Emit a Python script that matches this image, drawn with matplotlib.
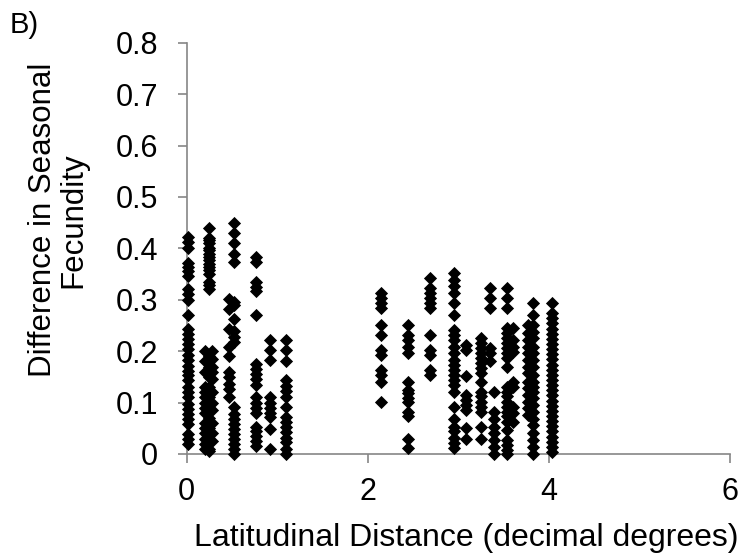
import numpy as np
import matplotlib
matplotlib.use("Agg")
import matplotlib.pyplot as plt

plt.rcParams["font.family"] = ["Liberation Sans", "DejaVu Sans"]

# column positions (decimal degrees) and fecundity differences
col_x = [0.02, 0.20, 0.25, 0.28, 0.47, 0.52, 0.77, 0.92, 1.10,
         2.15, 2.44, 2.69, 2.95, 3.08, 3.25, 3.35, 3.39, 3.54, 3.60,
         3.77, 3.83, 4.03]

col_y = [
    [0.423, 0.412, 0.40, 0.372, 0.364, 0.355, 0.347, 0.321, 0.312, 0.30, 0.27,
     0.243, 0.234, 0.224, 0.214, 0.205, 0.192, 0.182, 0.172, 0.162, 0.153,
     0.143, 0.13, 0.12, 0.11, 0.097, 0.088, 0.078, 0.068, 0.058, 0.039,
     0.029, 0.019],
    [0.20, 0.18, 0.16, 0.13, 0.12, 0.11, 0.10, 0.09, 0.08, 0.06, 0.05,
     0.04, 0.03, 0.02, 0.01],
    [0.44, 0.42, 0.416, 0.41, 0.40, 0.396, 0.39, 0.383, 0.377, 0.37, 0.364,
     0.357, 0.35, 0.334, 0.328, 0.32, 0.19, 0.17, 0.15, 0.13, 0.11, 0.09,
     0.07, 0.05, 0.03, 0.01, 0.005],
    [0.20, 0.185, 0.17, 0.16, 0.145, 0.12, 0.10, 0.085, 0.06, 0.04, 0.025],
    [0.302, 0.282, 0.243, 0.208, 0.19, 0.159, 0.149, 0.136, 0.127, 0.11],
    [0.45, 0.43, 0.41, 0.39, 0.373, 0.295, 0.289, 0.263, 0.24, 0.227, 0.218,
     0.091, 0.078, 0.068, 0.058, 0.049, 0.039, 0.029, 0.019, 0.01, 0.0],
    [0.383, 0.373, 0.334, 0.325, 0.318, 0.27, 0.175, 0.165, 0.155, 0.145,
     0.135, 0.11, 0.10, 0.09, 0.08, 0.052, 0.045, 0.035, 0.025, 0.015],
    [0.222, 0.203, 0.182, 0.11, 0.10, 0.09, 0.08, 0.071, 0.049, 0.01],
    [0.222, 0.203, 0.18, 0.143, 0.133, 0.123, 0.11, 0.091, 0.071, 0.062,
     0.052, 0.042, 0.032, 0.023, 0.01, 0.0],
    [0.313, 0.303, 0.294, 0.284, 0.251, 0.232, 0.203, 0.193, 0.164, 0.154,
     0.141, 0.102],
    [0.251, 0.232, 0.222, 0.209, 0.196, 0.141, 0.125, 0.118, 0.108, 0.102,
     0.082, 0.073, 0.03, 0.011],
    [0.342, 0.323, 0.313, 0.303, 0.294, 0.284, 0.232, 0.203, 0.193, 0.164,
     0.154],
    [0.353, 0.339, 0.326, 0.313, 0.294, 0.271, 0.242, 0.232, 0.222, 0.209,
     0.196, 0.183, 0.173, 0.164, 0.154, 0.144, 0.134, 0.121, 0.092, 0.069,
     0.053, 0.044, 0.031, 0.021, 0.011],
    [0.212, 0.203, 0.151, 0.115, 0.105, 0.095, 0.086, 0.05, 0.03],
    [0.225, 0.216, 0.206, 0.196, 0.186, 0.177, 0.167, 0.157, 0.141, 0.121,
     0.112, 0.102, 0.092, 0.082, 0.053, 0.03],
    [0.323, 0.303, 0.284, 0.206, 0.196, 0.18],
    [0.121, 0.082, 0.069, 0.053, 0.04, 0.027, 0.014, 0.0],
    [0.323, 0.303, 0.284, 0.245, 0.235, 0.225, 0.216, 0.206, 0.196, 0.186,
     0.17, 0.131, 0.121, 0.112, 0.102, 0.092, 0.082, 0.073, 0.063, 0.047,
     0.027, 0.018, 0.008, 0.0],
    [0.245, 0.222, 0.209, 0.199, 0.141, 0.131, 0.092, 0.079, 0.063],
    [0.251, 0.235, 0.222, 0.209, 0.196, 0.183, 0.17, 0.157, 0.141, 0.128,
     0.115, 0.102, 0.089, 0.076],
    [0.294, 0.271, 0.251, 0.238, 0.225, 0.209, 0.196, 0.183, 0.17, 0.154,
     0.141, 0.131, 0.121, 0.108, 0.095, 0.082, 0.069, 0.056, 0.04, 0.027,
     0.014, 0.0],
    [0.294, 0.274, 0.264, 0.254, 0.244, 0.234, 0.224, 0.214, 0.204, 0.194,
     0.184, 0.174, 0.164, 0.154, 0.144, 0.134, 0.124, 0.114, 0.104, 0.094,
     0.084, 0.074, 0.064, 0.054, 0.044, 0.034, 0.024, 0.014, 0.004],
]

xs = np.concatenate([[cx] * len(cy) for cx, cy in zip(col_x, col_y)])
ys = np.concatenate(col_y)

fig = plt.figure(figsize=(7.42, 5.55), dpi=100)
ax = fig.add_axes([0.2516, 0.182, 0.7322, 0.741])

ax.scatter(xs, ys, marker="D", s=45, color="black", linewidths=0, zorder=3,
           clip_on=False)

ax.set_xlim(0, 6)
ax.set_ylim(0, 0.8)
ax.set_xticks([0, 2, 4, 6])
ax.set_yticks(np.arange(0, 0.81, 0.1))
ax.set_yticklabels(["0", "0.1", "0.2", "0.3", "0.4", "0.5", "0.6", "0.7", "0.8"])

grey = "#868686"
for side in ["top", "right"]:
    ax.spines[side].set_visible(False)
for side in ["left", "bottom"]:
    ax.spines[side].set_color(grey)
    ax.spines[side].set_linewidth(1.2)
ax.tick_params(axis="both", colors=grey, labelcolor="black", labelsize=22,
               length=6.5, width=1.2, direction="out")
ax.tick_params(axis="y", pad=14)
ax.tick_params(axis="x", pad=10)

# axis titles placed as figure text to match the original offsets
fig.text(466 / 742, 1 - 546 / 555, "Latitudinal Distance (decimal degrees)",
         fontsize=23, ha="center", va="baseline")
fig.text(58 / 742, 1 - 220 / 555, "Difference in Seasonal\nFecundity",
         fontsize=22.5, rotation=90, ha="center", va="center",
         multialignment="center", linespacing=1.0)

fig.text(10 / 742, 1 - 33 / 555, "B)", fontsize=21, va="baseline", ha="left")

fig.savefig("out.png", dpi=100)
